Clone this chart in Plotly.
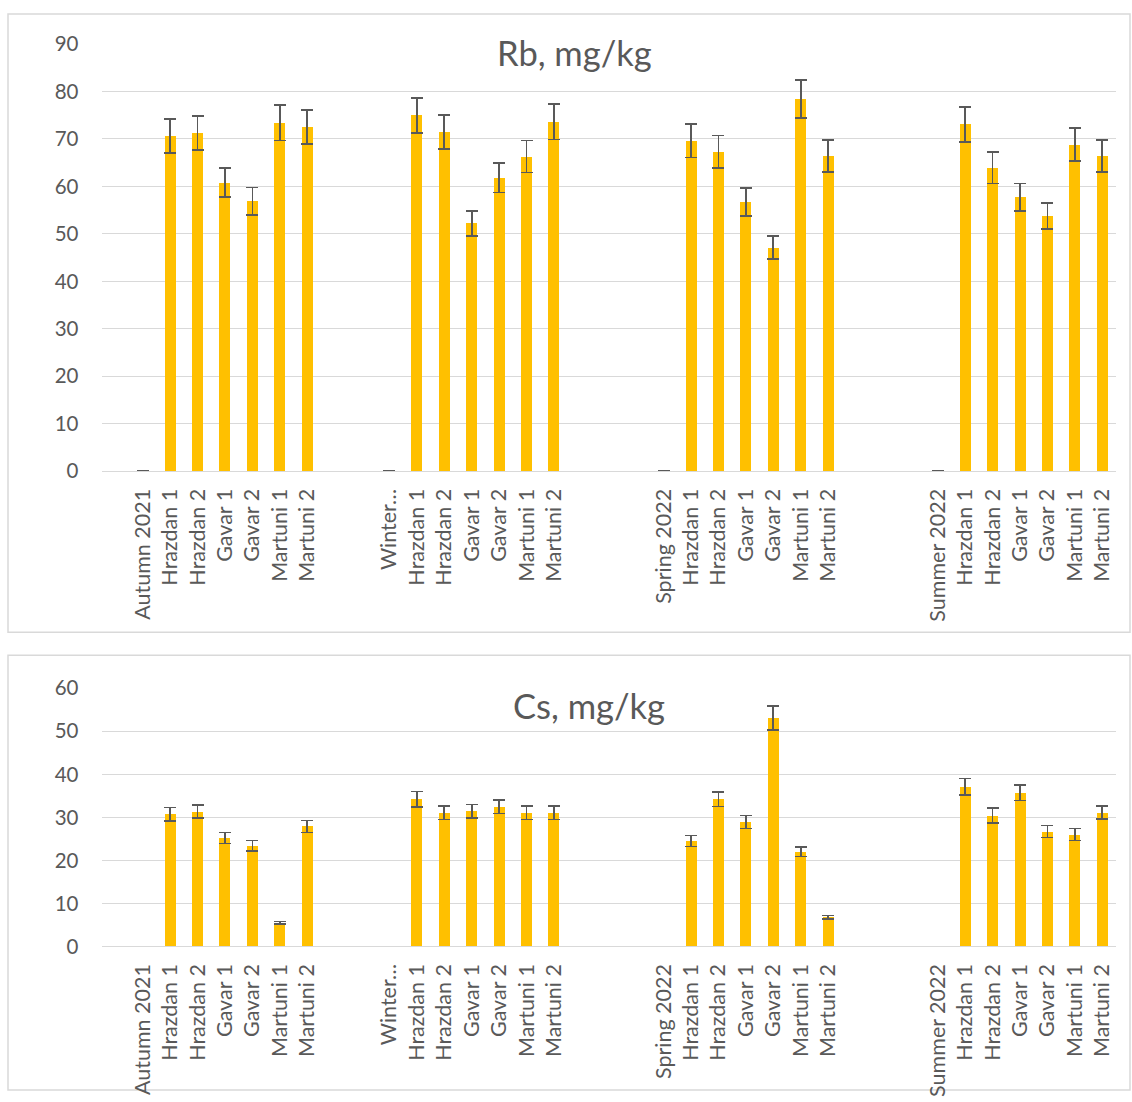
import plotly.graph_objects as go

# ---------------- data ----------------
season_labels = ["Autumn 2021", "Winter…", "Spring 2022", "Summer 2022"]
site_labels = ["Hrazdan 1", "Hrazdan 2", "Gavar 1", "Gavar 2", "Martuni 1", "Martuni 2"]
blank_slots_before = [1, 2, 3, 3]  # empty category slots before each season group

rb_autumn = [70.6, 71.2, 60.8, 56.9, 73.4, 72.5]
rb_winter = [75.0, 71.5, 52.2, 61.8, 66.3, 73.6]
rb_spring = [69.6, 67.3, 56.7, 47.1, 78.4, 66.4]
rb_summer = [73.1, 63.9, 57.7, 53.8, 68.8, 66.4]
rb_err_autumn = [3.6, 3.6, 3.1, 2.9, 3.7, 3.6]
rb_err_winter = [3.7, 3.6, 2.6, 3.1, 3.4, 3.7]
rb_err_spring = [3.5, 3.4, 2.9, 2.4, 4.0, 3.4]
rb_err_summer = [3.7, 3.3, 2.9, 2.7, 3.5, 3.4]

cs_autumn = [30.7, 31.3, 25.2, 23.4, 5.5, 27.9]
cs_winter = [34.2, 31.1, 31.4, 32.5, 31.1, 31.1]
cs_spring = [24.5, 34.2, 28.9, 53.1, 22.0, 6.8]
cs_summer = [37.1, 30.4, 35.7, 26.7, 26.0, 31.1]
cs_err_autumn = [1.6, 1.5, 1.3, 1.2, 0.3, 1.4]
cs_err_winter = [1.8, 1.6, 1.6, 1.6, 1.6, 1.6]
cs_err_spring = [1.3, 1.7, 1.5, 2.8, 1.1, 0.4]
cs_err_summer = [1.9, 1.7, 1.8, 1.4, 1.4, 1.5]

rb_vals = [rb_autumn, rb_winter, rb_spring, rb_summer]
rb_errs = [rb_err_autumn, rb_err_winter, rb_err_spring, rb_err_summer]
cs_vals = [cs_autumn, cs_winter, cs_spring, cs_summer]
cs_errs = [cs_err_autumn, cs_err_winter, cs_err_spring, cs_err_summer]

# ---------------- build category positions ----------------
xs, tick_text = [], []
rb_y, rb_e, cs_y, cs_e = [], [], [], []
pos = 0
for i, season in enumerate(season_labels):
    pos += blank_slots_before[i]
    xs.append(pos); tick_text.append(season)
    rb_y.append(0); rb_e.append(0)
    cs_y.append(None); cs_e.append(None)
    pos += 1
    for j, site in enumerate(site_labels):
        xs.append(pos); tick_text.append(site)
        rb_y.append(rb_vals[i][j]); rb_e.append(rb_errs[i][j])
        cs_y.append(cs_vals[i][j]); cs_e.append(cs_errs[i][j])
        pos += 1
n_slots = pos

W, H = 1132, 1102
BAR = "#FFC000"
TXT = "#595959"
GRID = "#D9D9D9"
FONT = "Lato"

# the captured picture is vertically mapped as  shown = 0.9778 * page + 13 ; compensate
VS, VOFF = 0.9778, 13.0

def px_x(p):
    return p / W

def px_y(p):
    f = (p - VOFF) / VS
    f = min(max(f, 1.0), H - 1.0)
    return 1 - f / H

err_style = dict(type="data", visible=True, color="#595959", thickness=1.7, width=6)

fig = go.Figure()
fig.add_trace(go.Bar(x=xs, y=rb_y, marker=dict(color=BAR, line=dict(width=0)), width=0.4,
                     error_y=dict(array=rb_e, **err_style), xaxis="x", yaxis="y", showlegend=False))
fig.add_trace(go.Bar(x=xs, y=cs_y, marker=dict(color=BAR, line=dict(width=0)), width=0.4,
                     error_y=dict(array=cs_e, **err_style), xaxis="x2", yaxis="y2", showlegend=False))

xdom = [px_x(101.6), px_x(1116)]
xaxis_common = dict(range=[-0.5, n_slots - 0.5], tickmode="array", tickvals=xs, ticktext=tick_text,
                    tickangle=-90, tickfont=dict(family=FONT, size=21.5, color=TXT),
                    showgrid=False, zeroline=False, showline=True, linecolor=GRID, linewidth=1,
                    ticks="outside", ticklen=8, tickcolor="rgba(0,0,0,0)", domain=xdom, fixedrange=True)
yaxis_common = dict(tickfont=dict(family=FONT, size=20.5, color=TXT), showgrid=True, gridcolor=GRID,
                    gridwidth=1, zeroline=False, showline=False, ticks="outside", ticklen=18,
                    tickcolor="rgba(0,0,0,0)", fixedrange=True)

fig.update_layout(
    width=W, height=H, margin=dict(l=0, r=0, t=0, b=0),
    paper_bgcolor="white", plot_bgcolor="white", bargap=0,
    font=dict(family=FONT, color=TXT),
    xaxis=dict(anchor="y", **xaxis_common),
    yaxis=dict(anchor="x", domain=[px_y(471), px_y(44)], range=[0, 90], dtick=10, **yaxis_common),
    xaxis2=dict(anchor="y2", **xaxis_common),
    yaxis2=dict(anchor="x2", domain=[px_y(946), px_y(688)], range=[0, 60], dtick=10, **yaxis_common),
    shapes=[
        dict(type="rect", xref="paper", yref="paper", x0=px_x(8), x1=px_x(1130), y0=px_y(632), y1=px_y(8),
             line=dict(color=GRID, width=1.5), fillcolor="rgba(0,0,0,0)", layer="below"),
        dict(type="rect", xref="paper", yref="paper", x0=px_x(8), x1=px_x(1130), y0=px_y(1100), y1=px_y(655),
             line=dict(color=GRID, width=1.5), fillcolor="rgba(0,0,0,0)", layer="below"),
    ],
    annotations=[
        dict(text="Rb, mg/kg", xref="paper", yref="paper", x=px_x(575), y=px_y(52), showarrow=False,
             xanchor="center", yanchor="middle", font=dict(family=FONT, size=34.5, color=TXT)),
        dict(text="Cs, mg/kg", xref="paper", yref="paper", x=px_x(589), y=px_y(705), showarrow=False,
             xanchor="center", yanchor="middle", font=dict(family=FONT, size=34.5, color=TXT)),
    ],
)

# pin the figure to the window's top-left corner (no page margin, no scrollbars)
pin = ("document.body.style.margin='0';"
       "document.documentElement.style.overflow='hidden';"
       "var d=document.getElementsByClassName('plotly-graph-div')[0];"
       "d.style.position='absolute';d.style.top='0px';d.style.left='0px';")
fig.write_html("out.html", config={"displayModeBar": False, "staticPlot": True}, post_script=pin)
